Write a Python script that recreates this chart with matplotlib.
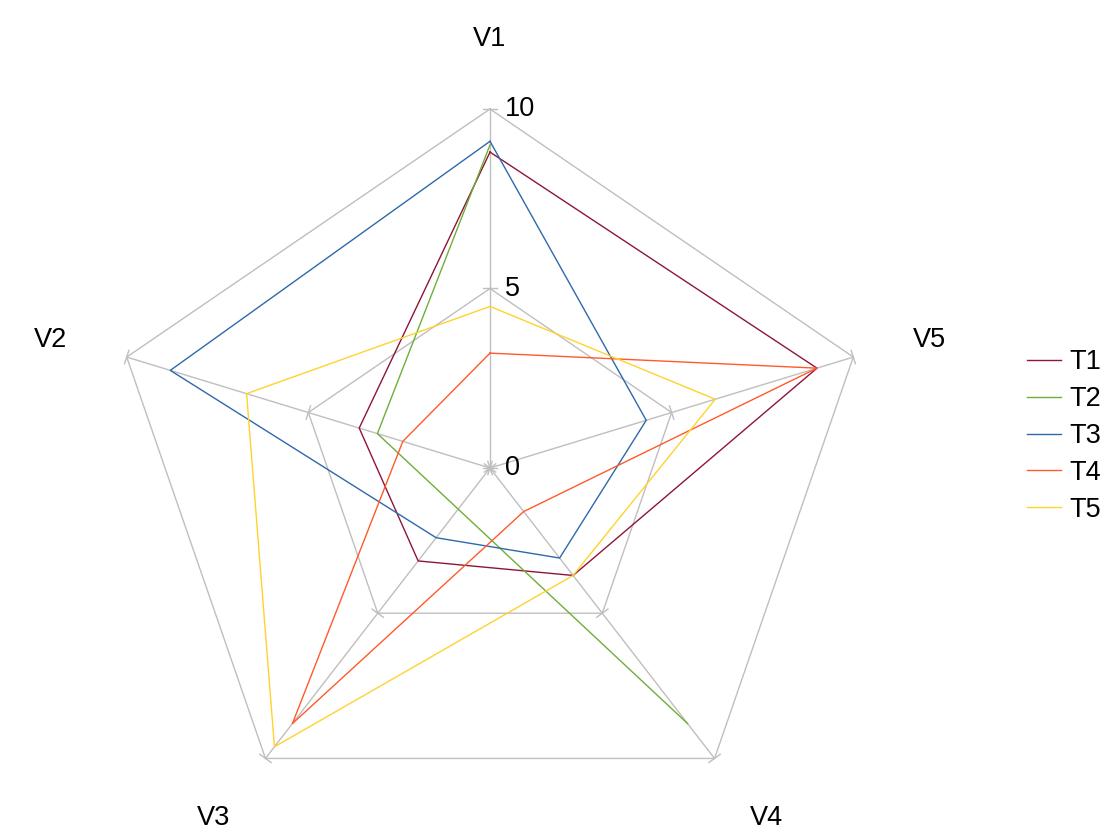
import numpy as np
import matplotlib
matplotlib.use('Agg')
import matplotlib.pyplot as plt
from matplotlib.lines import Line2D

plt.rcParams['font.family'] = ['Liberation Sans', 'DejaVu Sans']

# data
categories = ['V1', 'V2', 'V3', 'V4', 'V5']
series = ['T1', 'T2', 'T3', 'T4', 'T5']
t1 = [8.8, 3.6, 3.2, 3.7, 9.0]
t2 = [9.0, 3.1, np.nan, 8.8, np.nan]   # blanks in the sheet
t3 = [9.1, 8.8, 2.4, 3.1, 4.3]
t4 = [3.2, 2.4, 8.8, 1.5, 9.0]
t5 = [4.5, 6.7, 9.6, 3.7, 6.2]
grid_levels = [0, 5, 10]
colors = ['#8E1538', '#6FAE3A', '#2E69AA', '#FF5A2B', '#FFD22E']
grid_col = '#BFBFBF'

W, H = 1112, 830
cx, cy = 490, 468          # centre in pixels
kx, ky = 38.2, 35.9        # pixels per unit (chart is a bit wider than tall)

fig = plt.figure(figsize=(W / 100, H / 100), dpi=100)
ax = fig.add_axes([0, 0, 1, 1])
ax.set_xlim(-cx / kx, (W - cx) / kx)
ax.set_ylim(-(H - cy) / ky, cy / ky)
ax.axis('off')

ang = np.deg2rad(90 + 72 * np.arange(len(categories)))
ux, uy = np.cos(ang), np.sin(ang)

# grid polygons
for g in grid_levels[1:]:
    ax.plot(np.append(g * ux, g * ux[0]), np.append(g * uy, g * uy[0]),
            color=grid_col, lw=1.0, zorder=1)
# spokes and tick marks
tl = 7.0
for i in range(len(categories)):
    ax.plot([0, 10 * ux[i]], [0, 10 * uy[i]], color=grid_col, lw=1.0, zorder=1)
    px, py = -uy[i] * tl / kx, ux[i] * tl / ky
    for g in grid_levels:
        ax.plot([g * ux[i] - px, g * ux[i] + px], [g * uy[i] - py, g * uy[i] + py],
                color=grid_col, lw=1.0, zorder=1)

# value labels on V1 axis
for g in grid_levels:
    ax.text(15 / kx, g, str(g), fontsize=19.5, ha='left', va='center')

# category labels (distance from centre, separately along x and y)
lab_rx = [0, 12.1, 12.3, 12.3, 12.1]
lab_ry = [11.95, 11.55, 12.05, 12.05, 11.55]
for i, c in enumerate(categories):
    ax.text(lab_rx[i] * ux[i], lab_ry[i] * uy[i], c, fontsize=19.5,
            ha='center', va='center')

data = [t1, t2, t3, t4, t5]
handles = []
for name, vals, col in zip(series, data, colors):
    v = np.array(vals, dtype=float)
    x, y = v * ux, v * uy
    if np.isnan(v).any():
        ok = ~np.isnan(v)
        # connect across the inner blank, leave the closing edge open
        ax.plot(x[ok], y[ok], color=col, lw=1.0, zorder=3)
    else:
        ax.plot(np.append(x, x[0]), np.append(y, y[0]), color=col, lw=1.0, zorder=3)
    handles.append(Line2D([], [], color=col, lw=1.0, label=name))

fig.legend(handles=handles, loc='center left', bbox_to_anchor=(1027 / W, 1 - 436 / H),
           frameon=False, fontsize=19.5, handlelength=1.25, handletextpad=0.3,
           labelspacing=0.4, borderpad=0, borderaxespad=0)

fig.savefig('out.png', dpi=100)
